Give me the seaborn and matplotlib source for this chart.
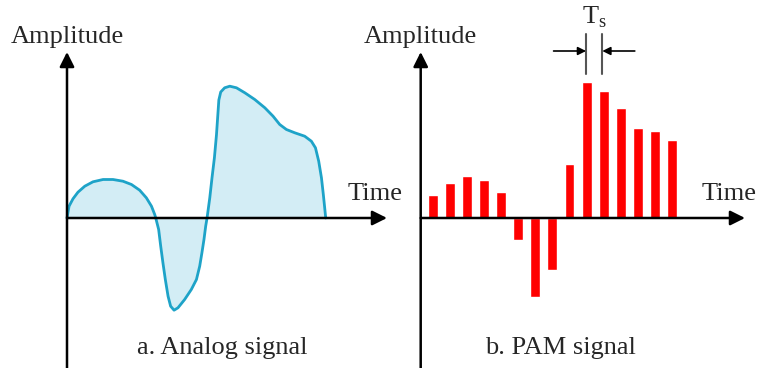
# Analog signal vs PAM signal sketch
import numpy as np
import matplotlib
matplotlib.use("Agg")
import matplotlib.pyplot as plt
import seaborn as sns

# analog signal (time in units of Ts, amplitude arbitrary)
analog_t = [0, 0.12, 0.35, 0.64, 1.04, 1.52, 2.11, 2.69, 3.27, 3.77, 4.25, 4.64,
            4.94, 5.13, 5.19,
            5.36, 5.48, 5.61, 5.75, 5.91, 6.06, 6.26, 6.49, 6.88, 7.27, 7.57,
            7.76, 7.89, 8.01, 8.11, 8.19,
            8.35, 8.48, 8.62, 8.74, 8.82, 8.88, 8.99, 9.22, 9.52, 9.91, 10.40,
            10.98, 11.57, 12.05, 12.44, 12.83, 13.32, 13.90, 14.29, 14.53,
            14.72, 14.88, 14.99, 15.07, 15.13]
analog_a = [0, 1.18, 1.92, 2.58, 3.18, 3.62, 3.85, 3.85, 3.68, 3.35, 2.78, 2.02,
            1.18, 0.35, 0,
            -1.15, -2.82, -4.48, -6.15, -7.82, -8.82, -9.22, -8.98, -8.15,
            -7.15, -6.15, -4.82, -3.48, -2.15, -0.82, 0,
            2.02, 4.02, 6.02, 8.3, 10.3, 11.8, 12.6, 13.02, 13.18, 13.02,
            12.52, 11.85, 11.02, 10.18, 9.35, 8.85, 8.52, 8.18, 7.68, 7.02,
            5.68, 4.02, 2.35, 1.02, 0]

# PAM samples
sample_t = np.arange(15) + 0.7
pam_a = [2.3, 3.5, 4.2, 3.8, 2.6, -2.2, -7.9, -5.2, 5.4, 13.6, 12.7, 11.0, 9.0, 8.7, 7.8]

captions = ["a. Analog signal", "b. PAM signal"]

sns.set_style("white")
plt.rcParams["font.family"] = ["Liberation Serif", "DejaVu Serif"]

W, H = 758, 368
fig = plt.figure(figsize=(W / 100, H / 100), dpi=100)
px = 17.1   # pixels per time unit
py = 10.0   # pixels per amplitude unit

ax1 = fig.add_axes([0, 0, 400 / W, 1])
ax2 = fig.add_axes([400 / W, 0, 358 / W, 1])

# analog curve
ax1.fill_between(analog_t, analog_a, 0, color="#d3edf5", lw=0)
sns.lineplot(x=analog_t, y=analog_a, sort=False, color="#1ea3c8", lw=2,
             solid_joinstyle="round", solid_capstyle="round", ax=ax1)

# PAM bars
sns.barplot(x=sample_t, y=pam_a, native_scale=True, width=0.58, color="#ff0000",
            saturation=1, errorbar=None, ax=ax2)

ylim = (-(H - 218) / py, 218 / py)
arrow = dict(arrowstyle="-|>", color="black", lw=1.8, mutation_scale=22,
             shrinkA=0, shrinkB=0)
for ax, x0, cap, cap_x in [(ax1, 67, captions[0], 9.1), (ax2, 20.7, captions[1], 8.2)]:
    wpx = ax.get_position().width * W
    ax.set_xlim(-x0 / px, (wpx - x0) / px)
    ax.set_ylim(*ylim)
    ax.set_axis_off()
    ax.annotate("", xy=(0, 16.6), xytext=(0, ylim[0]), arrowprops=arrow)
    ax.annotate("", xy=((wpx - x0 - 13) / px, 0), xytext=(0, 0), arrowprops=arrow)
    ax.text(0, 17.5, "Amplitude", ha="center", va="baseline", fontsize=19)
    ax.text(16.4, 1.8, "Time", ha="left", va="baseline", fontsize=19)
    ax.text(cap_x, -13.6, cap, ha="center", va="baseline", fontsize=19)

# Ts marker between samples 10 and 11
t1 = sample_t[9] - 0.03
t2 = sample_t[10] - 0.08
ax2.plot([t1, t1], [14.4, 18.4], color="#555555", lw=1.5, clip_on=False)
ax2.plot([t2, t2], [14.4, 18.4], color="#555555", lw=1.5, clip_on=False)
ts_arrow = dict(arrowstyle="-|>", color="black", lw=1.2, mutation_scale=12,
                shrinkA=0, shrinkB=0)
ax2.annotate("", xy=(t1, 16.7), xytext=(t1 - 1.9, 16.7), arrowprops=ts_arrow)
ax2.annotate("", xy=(t2, 16.7), xytext=(t2 + 1.9, 16.7), arrowprops=ts_arrow)
ax2.text((t1 + t2) / 2, 19.4, r"T$_\mathregular{s}$", ha="center", va="baseline", fontsize=19)

fig.savefig("out.png", dpi=100)
